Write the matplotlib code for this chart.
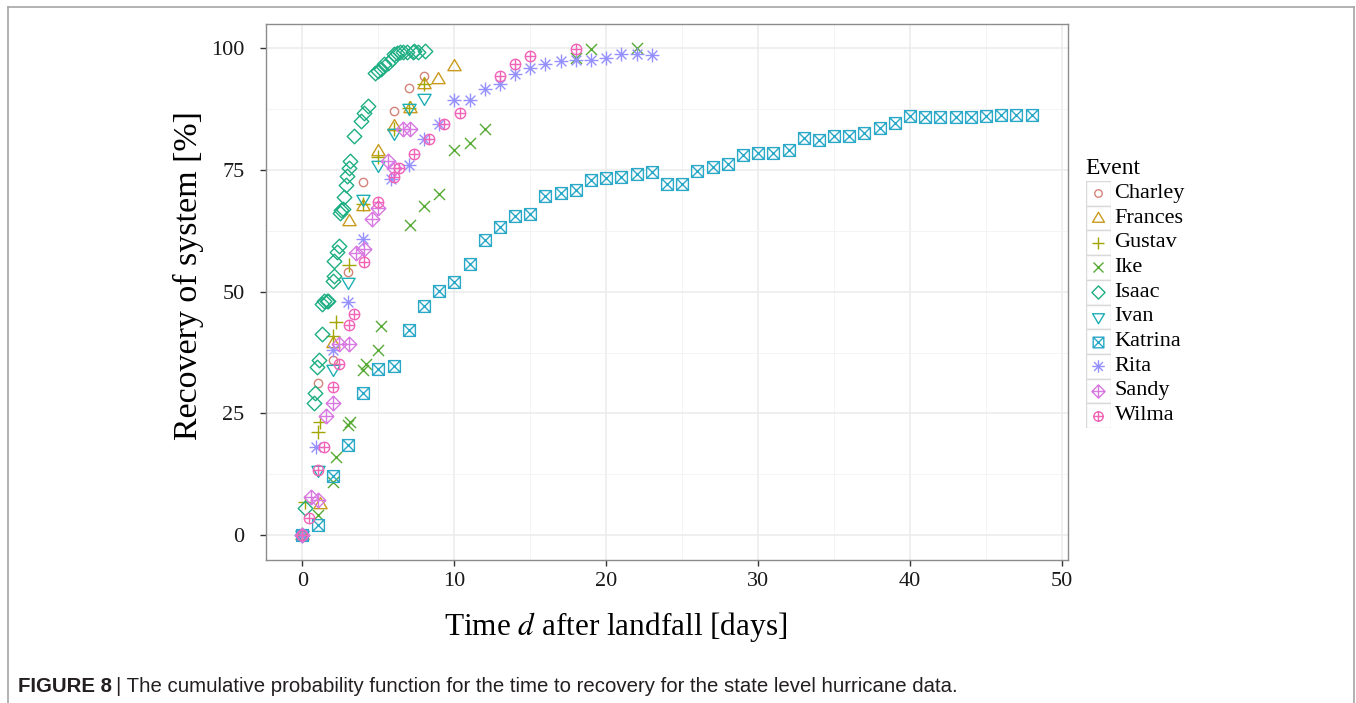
import numpy as np
import matplotlib.pyplot as plt
from matplotlib.path import Path
from matplotlib.lines import Line2D
from matplotlib.patches import Rectangle

# recovery curves (day after landfall, % of customers restored)
charley_days = [0, 1, 2, 3, 4, 6, 7, 8]
charley_pct = [0, 31.2, 35.9, 54.0, 72.5, 87.2, 91.9, 94.3]

frances_days = [0, 1.15, 2, 3.05, 4, 5, 6, 7.1, 8, 8.9, 10]
frances_pct = [0, 6.5, 39.4, 64.6, 67.7, 79.0, 84.0, 87.8, 92.6, 93.6, 96.4]

gustav_days = [0, 0.2, 1, 1.15, 2, 2.2, 3.05, 4, 5, 6, 7, 8]
gustav_pct = [0, 6.9, 21.2, 23.3, 41.0, 43.8, 55.4, 68.0, 77.6, 83.4, 87.8, 92.6]

ike_days = [0, 1, 2, 2.2, 3, 3.1, 4, 4.2, 5, 5.15, 7.1, 8, 9, 10, 11, 12, 18, 19, 22]
ike_pct = [0, 4.2, 11.0, 16.0, 22.6, 23.3, 33.9, 35.2, 38.0, 42.9, 63.8, 67.7, 70.1,
           79.2, 80.5, 83.4, 98.1, 99.8, 100]

isaac_days = [0, 0.2, 0.75, 0.85, 0.95, 1.1, 1.3, 1.3, 1.45, 1.6, 1.7, 2.0, 2.1, 2.1,
              2.3, 2.4, 2.45, 2.55, 2.7, 2.75, 2.85, 2.95, 3.05, 3.15, 3.4, 3.85, 4.05,
              4.3, 4.8, 4.95, 5.15, 5.4, 5.6, 5.9, 6.0, 6.2, 6.45, 6.6, 6.9, 7.25, 7.35,
              7.6, 8.1]
isaac_pct = [0, 5.5, 27.2, 29.1, 34.5, 36.0, 41.4, 47.5, 48.0, 48.2, 48.2, 52.3, 53.3,
             56.3, 58.1, 59.5, 66.2, 66.7, 67.0, 69.5, 72.0, 73.8, 75.5, 76.9, 82.0,
             85.1, 86.8, 88.2, 95.0, 95.3, 95.7, 96.7, 97.0, 97.8, 98.8, 99.1, 99.3,
             99.3, 99.3, 99.3, 99.5, 99.2, 99.4]

ivan_days = [0, 1, 2, 3, 4, 5, 6, 7, 8]
ivan_pct = [0, 13.3, 34.2, 52.0, 69.0, 76.0, 82.7, 87.8, 89.7]

katrina_days = [0, 1, 2, 3, 4, 5, 6, 7, 8, 9, 10, 11, 12, 13, 14, 15, 16, 17, 18, 19,
                20, 21, 22, 23, 24, 25, 26, 27, 28, 29, 30, 31, 32, 33, 34, 35, 36, 37,
                38, 39, 40, 41, 42, 43, 44, 45, 46, 47, 48]
katrina_pct = [0, 2.1, 12.2, 18.6, 29.3, 34.2, 34.7, 42.1, 47.0, 50.2, 52.1, 55.7, 60.7,
               63.4, 65.5, 65.9, 69.6, 70.2, 70.9, 72.9, 73.3, 73.6, 74.2, 74.6, 72.1,
               72.1, 74.9, 75.7, 76.2, 78.1, 78.4, 78.5, 79.1, 81.5, 81.2, 82.0, 82.0,
               82.7, 83.7, 84.7, 86.0, 85.8, 85.8, 85.8, 85.8, 86.0, 86.3, 86.3, 86.3]

rita_days = [0, 0.9, 2, 3, 4, 5.8, 7, 8, 9, 10, 11, 12, 13, 14, 15, 16, 17, 18, 19, 20,
             21, 22, 23]
rita_pct = [0, 18.2, 38.0, 47.9, 60.9, 73.2, 76.1, 81.3, 84.4, 89.3, 89.3, 91.7, 92.7,
            94.7, 96.0, 96.7, 97.4, 97.7, 97.7, 98.1, 98.8, 98.8, 98.6]

sandy_days = [0, 0.55, 1, 1.55, 2, 2.4, 3.05, 3.5, 4.05, 4.6, 5, 5.6, 6.05, 6.6, 7.1]
sandy_pct = [0, 7.9, 7.2, 24.5, 27.2, 39.2, 39.2, 58.0, 58.8, 65.0, 67.3, 76.9, 75.5,
             83.4, 83.4]

wilma_days = [0, 0.45, 1, 1.45, 2, 2.4, 3.05, 3.4, 4.05, 5, 6, 6.35, 7.35, 8.35, 9.35,
              10.35, 13, 14, 15, 18]
wilma_pct = [0, 3.5, 13.3, 18.2, 30.5, 35.2, 43.1, 45.5, 56.1, 68.5, 73.6, 75.5, 78.3,
             81.4, 84.4, 86.7, 94.3, 96.7, 98.4, 99.8]

events = ['Charley', 'Frances', 'Gustav', 'Ike', 'Isaac', 'Ivan', 'Katrina', 'Rita',
          'Sandy', 'Wilma']
series = [(charley_days, charley_pct), (frances_days, frances_pct),
          (gustav_days, gustav_pct), (ike_days, ike_pct), (isaac_days, isaac_pct),
          (ivan_days, ivan_pct), (katrina_days, katrina_pct), (rita_days, rita_pct),
          (sandy_days, sandy_pct), (wilma_days, wilma_pct)]
colors = ['#d4837a', '#c99a1c', '#a3a500', '#57ab34', '#1dae82', '#1eafb4',
          '#2aa8c8', '#9590ff', '#d97ae2', '#f063b6']


def seg_path(segs):
    verts, codes = [], []
    for a, b in segs:
        verts += [a, b]
        codes += [Path.MOVETO, Path.LINETO]
    return Path(verts, codes)


def closed_path(pts):
    return Path(pts + [pts[0]], [Path.MOVETO] + [Path.LINETO] * (len(pts) - 1) + [Path.CLOSEPOLY])


d = np.sqrt(0.5)
plus = seg_path([((-1, 0), (1, 0)), ((0, -1), (0, 1))])
cross = seg_path([((-1, -1), (1, 1)), ((-1, 1), (1, -1))])
star = seg_path([((-1, 0), (1, 0)), ((0, -1), (0, 1)), ((-d, -d), (d, d)), ((-d, d), (d, -d))])
square = closed_path([(-1, -1), (1, -1), (1, 1), (-1, 1)])
diamond = closed_path([(0, 1), (1, 0), (0, -1), (-1, 0)])
tri_up = closed_path([(0, 1), (-0.95, -0.6), (0.95, -0.6)])
tri_dn = closed_path([(0, -1), (-0.95, 0.6), (0.95, 0.6)])
circle = Path.unit_circle()

markers = [circle, tri_up, plus, cross, diamond, tri_dn,
           Path.make_compound_path(square, cross), star,
           Path.make_compound_path(diamond, plus),
           Path.make_compound_path(circle, plus)]
sizes = [6, 10, 9.5, 8, 10.5, 10, 8.5, 10, 10.5, 7.5]

W, H = 1356, 703
fig = plt.figure(figsize=(W / 100, H / 100), dpi=100)
serif = ['Liberation Serif', 'DejaVu Serif']


def fx(px):
    return px / W


def fy(py):
    return 1 - py / H


ax = fig.add_axes([fx(266), fy(559.5), fx(1068) - fx(266), fy(24) - fy(559.5)])
for (xs, ys), m, c, s in zip(series, markers, colors, sizes):
    ax.plot(xs, ys, linestyle='none', marker=m, markersize=s, markerfacecolor='none',
            markeredgecolor=c, markeredgewidth=1.0)

ax.set_xlim(-2.4, 50.4)
ax.set_ylim(-5, 105)
ax.set_xticks([0, 10, 20, 30, 40, 50])
ax.set_yticks([0, 25, 50, 75, 100])
ax.set_xticks([5, 15, 25, 35, 45], minor=True)
ax.set_yticks([12.5, 37.5, 62.5, 87.5], minor=True)
ax.grid(which='major', color='#ebebeb', linewidth=1.1)
ax.grid(which='minor', color='#f2f2f2', linewidth=0.6)
ax.set_axisbelow(True)
ax.tick_params(which='minor', length=0)
ax.tick_params(which='major', length=4, width=1, color='#333333', labelsize=16,
               labelcolor='#1a1a1a')
ax.tick_params(axis='y', pad=11.5)
ax.tick_params(axis='x', pad=5)
for lab in ax.get_xticklabels() + ax.get_yticklabels():
    lab.set_family(serif)
for sp in ax.spines.values():
    sp.set_color('#8c8c8c')
    sp.set_linewidth(1.0)

fig.text(fx(188), fy(276), 'Recovery of system [%]', rotation=90, ha='center',
         va='center', fontsize=24.5, family=serif)
fig.text(fx(616), fy(627), r'Time $d$ after landfall [days]', ha='center', va='center',
         fontsize=22.5, family=serif, math_fontfamily='stix')

# legend: keys in light grey boxes
key_x0, key_w, row_h, top = 1086, 24.5, 24.7, 181
fig.text(fx(key_x0 - 1), fy(top - 13), 'Event', ha='left', va='center', fontsize=17,
         family=serif)
lax = fig.add_axes([fx(key_x0), fy(top + row_h * 10), fx(key_w), fy(top) - fy(top + row_h * 10)])
lax.set_xlim(0, key_w)
lax.set_ylim(row_h * 10, 0)
lax.axis('off')
for i, (name, m, c, s) in enumerate(zip(events, markers, colors, sizes)):
    lax.add_patch(Rectangle((0, i * row_h), key_w, row_h, facecolor='white',
                            edgecolor='#d9d9d9', linewidth=1.0))
    lax.plot([key_w / 2], [i * row_h + row_h / 2], marker=m, markersize=s * 0.9,
             markerfacecolor='none', markeredgecolor=c, markeredgewidth=1.0,
             linestyle='none', clip_on=False)
    fig.text(fx(key_x0 + key_w + 4), fy(top + i * row_h + row_h / 2), name, ha='left',
             va='center', fontsize=16, family=serif)

# outer frame and caption
frame = '#a6a6a6'
fig.add_artist(Line2D([fx(8), fx(8)], [fy(7), 0], color=frame, linewidth=1.2))
fig.add_artist(Line2D([fx(8), fx(1354)], [fy(7), fy(7)], color=frame, linewidth=1.2))
fig.add_artist(Line2D([fx(1354), fx(1354)], [fy(7), 0], color=frame, linewidth=1.2))

sans = ['Liberation Sans Narrow', 'Liberation Sans']
cap = fig.text(fx(18), fy(686), 'FIGURE 8', ha='left', va='center', fontsize=14.7,
               family=sans, weight='bold', color='#231f20')
fig.canvas.draw()
bb = cap.get_window_extent()
fig.text(bb.x1 / W + fx(4), fy(686),
         '| The cumulative probability function for the time to recovery for the state level hurricane data.',
         ha='left', va='center', fontsize=14.7, family=sans, color='#231f20')

fig.savefig('out.png', dpi=100)
